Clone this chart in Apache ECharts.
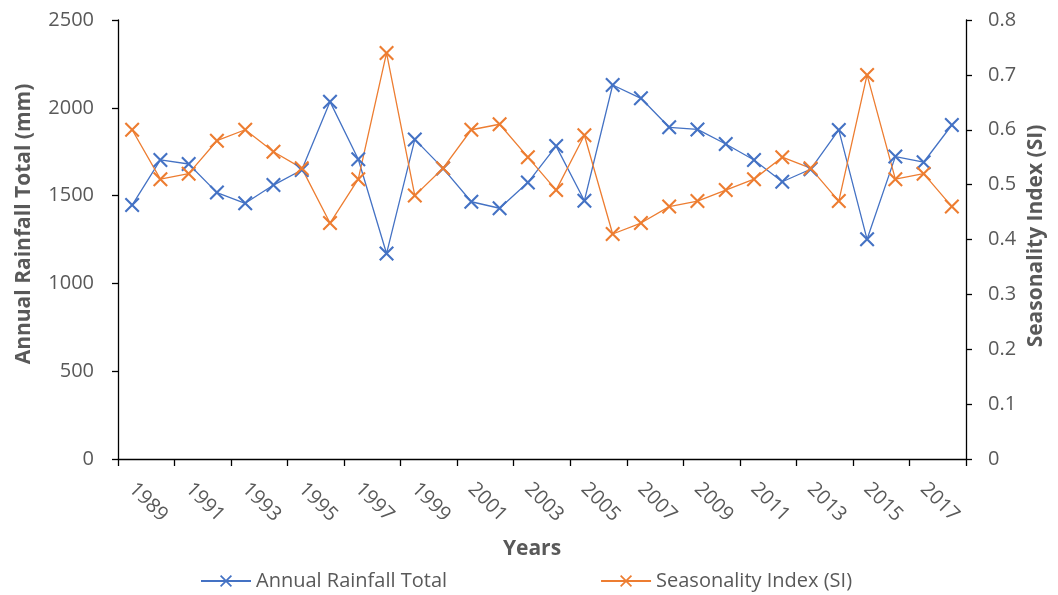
<!DOCTYPE html>
<html>
<head>
<meta charset="utf-8">
<script src="https://cdn.jsdelivr.net/npm/echarts@6/dist/echarts.min.js"></script>
<style>html,body{margin:0;padding:0;background:#fff}#c{width:1058px;height:595px}</style>
</head>
<body>
<div id="c"></div>
<script>
var years = ['1989','1990','1991','1992','1993','1994','1995','1996','1997','1998','1999','2000','2001','2002','2003','2004','2005','2006','2007','2008','2009','2010','2011','2012','2013','2014','2015','2016','2017','2018'];
var rainfall = [1446,1703,1680,1517,1456,1560,1646,2035,1707,1170,1820,1655,1465,1428,1574,1782,1471,2130,2054,1889,1877,1794,1703,1579,1650,1874,1251,1722,1690,1902];
var seasonality = [0.60,0.51,0.52,0.58,0.60,0.56,0.53,0.43,0.51,0.74,0.48,0.53,0.60,0.61,0.55,0.49,0.59,0.41,0.43,0.46,0.47,0.49,0.51,0.55,0.53,0.47,0.70,0.51,0.52,0.46];
var leftTicks = [0, 2500, 500];
var rightTicks = [0, 0.8, 0.1];

var FONT = 'Open Sans';
var GREY = '#595959';
var XSYM = 'path://M0,1 L1,0 L5,4 L9,0 L10,1 L6,5 L10,9 L9,10 L5,6 L1,10 L0,9 L4,5 Z';

var chart = echarts.init(document.getElementById('c'));
chart.setOption({
  animation: false,
  textStyle: {fontFamily: FONT},
  grid: {left: 118, right: 92, top: 20, bottom: 136, containLabel: false},
  xAxis: {
    type: 'category', data: years, boundaryGap: true,
    axisLine: {lineStyle: {color: '#000', width: 1.3}},
    axisTick: {show: true, interval: 1, length: 7, lineStyle: {color: '#000', width: 1.3}},
    axisLabel: {interval: 1, rotate: -45, margin: 27, color: GREY, fontSize: 20, fontFamily: FONT}
  },
  yAxis: [{
    type: 'value', min: leftTicks[0], max: leftTicks[1], interval: leftTicks[2], position: 'left',
    splitLine: {show: false},
    axisLine: {show: true, lineStyle: {color: '#000', width: 1.3}},
    axisTick: {show: true, length: 6, lineStyle: {color: '#000', width: 1.3}},
    axisLabel: {margin: 24, color: GREY, fontSize: 20, fontFamily: FONT,
      formatter: function (v) { return String(v); }}
  }, {
    type: 'value', min: rightTicks[0], max: rightTicks[1], interval: rightTicks[2], position: 'right',
    splitLine: {show: false},
    axisLine: {show: true, lineStyle: {color: '#000', width: 1.3}},
    axisTick: {show: true, length: 6, lineStyle: {color: '#000', width: 1.3}},
    axisLabel: {margin: 22, color: GREY, fontSize: 20, fontFamily: FONT,
      formatter: function (v) { return String(Math.round(v * 10) / 10); }}
  }],
  legend: {
    left: 195, top: 566, itemWidth: 50, itemHeight: 15, itemGap: 153,
    textStyle: {color: GREY, fontSize: 20, fontFamily: FONT},
    data: ['Annual Rainfall Total', 'Seasonality Index (SI)']
  },
  series: [{
    name: 'Annual Rainfall Total', type: 'line', yAxisIndex: 0, data: rainfall,
    symbol: XSYM, symbolSize: 15, showAllSymbol: true,
    lineStyle: {color: '#4472C4', width: 1.3}, itemStyle: {color: '#4472C4'}
  }, {
    name: 'Seasonality Index (SI)', type: 'line', yAxisIndex: 1, data: seasonality,
    symbol: XSYM, symbolSize: 15, showAllSymbol: true,
    lineStyle: {color: '#ED7D31', width: 1.3}, itemStyle: {color: '#ED7D31'}
  }],
  graphic: [
    {type: 'text', x: 24, y: 224, rotation: Math.PI / 2,
      style: {text: 'Annual Rainfall Total (mm)', fill: GREY, font: 'bold 21px ' + FONT, align: 'center', verticalAlign: 'middle'}},
    {type: 'text', x: 1036, y: 236, rotation: Math.PI / 2,
      style: {text: 'Seasonality Index (SI)', fill: GREY, font: 'bold 21px ' + FONT, align: 'center', verticalAlign: 'middle'}},
    {type: 'text', x: 532, y: 549,
      style: {text: 'Years', fill: GREY, font: 'bold 21px ' + FONT, align: 'center', verticalAlign: 'middle'}}
  ]
});
</script>
</body>
</html>
